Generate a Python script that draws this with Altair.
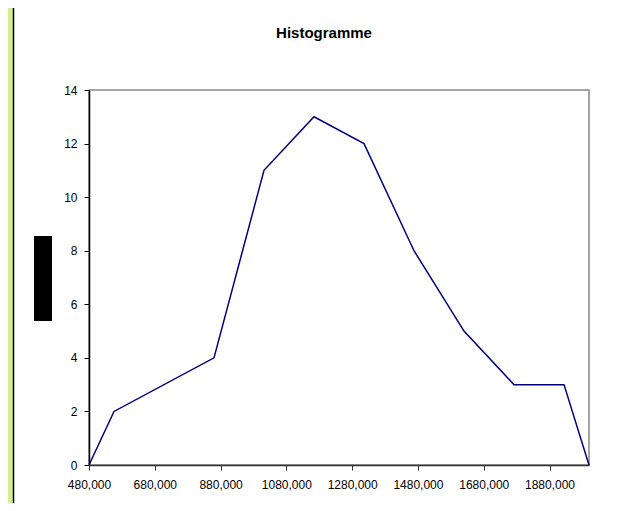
import altair as alt
import pandas as pd

# Data (frequency polygon)
x_vals = [480000, 556000, 860000, 1012000, 1164000, 1316000, 1468000, 1620000, 1772000, 1924000, 2000000]
y_vals = [0, 2, 4, 11, 13, 12, 8, 5, 3, 3, 0]
x_ticks = [480000, 680000, 880000, 1080000, 1280000, 1480000, 1680000, 1880000]
y_ticks = [0, 2, 4, 6, 8, 10, 12, 14]
title_text = ["Histogramme"]

df = pd.DataFrame({"x": x_vals, "y": y_vals})

W, H = 500, 375
PAD_L, PAD_T = 81, 82

line = alt.Chart(df).mark_line(color="#000080", strokeWidth=1.5).encode(
    x=alt.X("x:Q",
            scale=alt.Scale(domain=[480000, 2000000], nice=False, zero=False),
            axis=alt.Axis(values=x_ticks, title=None, grid=False,
                          labelExpr="floor(datum.value/1000) + ',000'",
                          domainColor="#333333", tickColor="#333333",
                          tickSize=5, labelPadding=9, labelFlush=False)),
    y=alt.Y("y:Q",
            scale=alt.Scale(domain=[0, 14], nice=False),
            axis=alt.Axis(values=y_ticks, title=None, grid=False,
                          domainColor="#000000", tickColor="#000000",
                          tickSize=5, labelPadding=7)),
)

title = alt.Chart(pd.DataFrame({"t": title_text})).mark_text(
    font="Liberation Sans", fontSize=15, fontWeight="bold", color="#000000",
    align="center", baseline="middle",
).encode(text="t:N", x=alt.value(W / 2 - 15), y=alt.value(-57))

# decorations: left green strip + frame line, redacted axis title box
strip = alt.Chart(pd.DataFrame({"a": [0]})).mark_rect(color="#d2f092").encode(
    x=alt.value(-PAD_L), x2=alt.value(-PAD_L + 5),
    y=alt.value(-PAD_T), y2=alt.value(H + 60),
)
frame = alt.Chart(pd.DataFrame({"a": [0]})).mark_rule(color="#000000", strokeWidth=1.5).encode(
    x=alt.value(-PAD_L + 5.5), y=alt.value(-PAD_T), y2=alt.value(H + 60),
)
box = alt.Chart(pd.DataFrame({"a": [0]})).mark_rect(color="#000000").encode(
    x=alt.value(-55), x2=alt.value(-37), y=alt.value(146), y2=alt.value(231),
)

chart = alt.layer(strip, frame, box, title, line).properties(
    width=W, height=H,
    padding={"left": PAD_L, "top": PAD_T, "right": 38, "bottom": 38},
    autosize=alt.AutoSizeParams(type="none"),
    background="#ffffff",
).configure_view(stroke="#888888", strokeWidth=1.5).configure_axis(
    labelFont="Liberation Sans", labelFontSize=12, labelColor="#000000",
    domainWidth=1.5,
)

chart.save("out.html", embed_options={"renderer": "svg", "actions": False})
